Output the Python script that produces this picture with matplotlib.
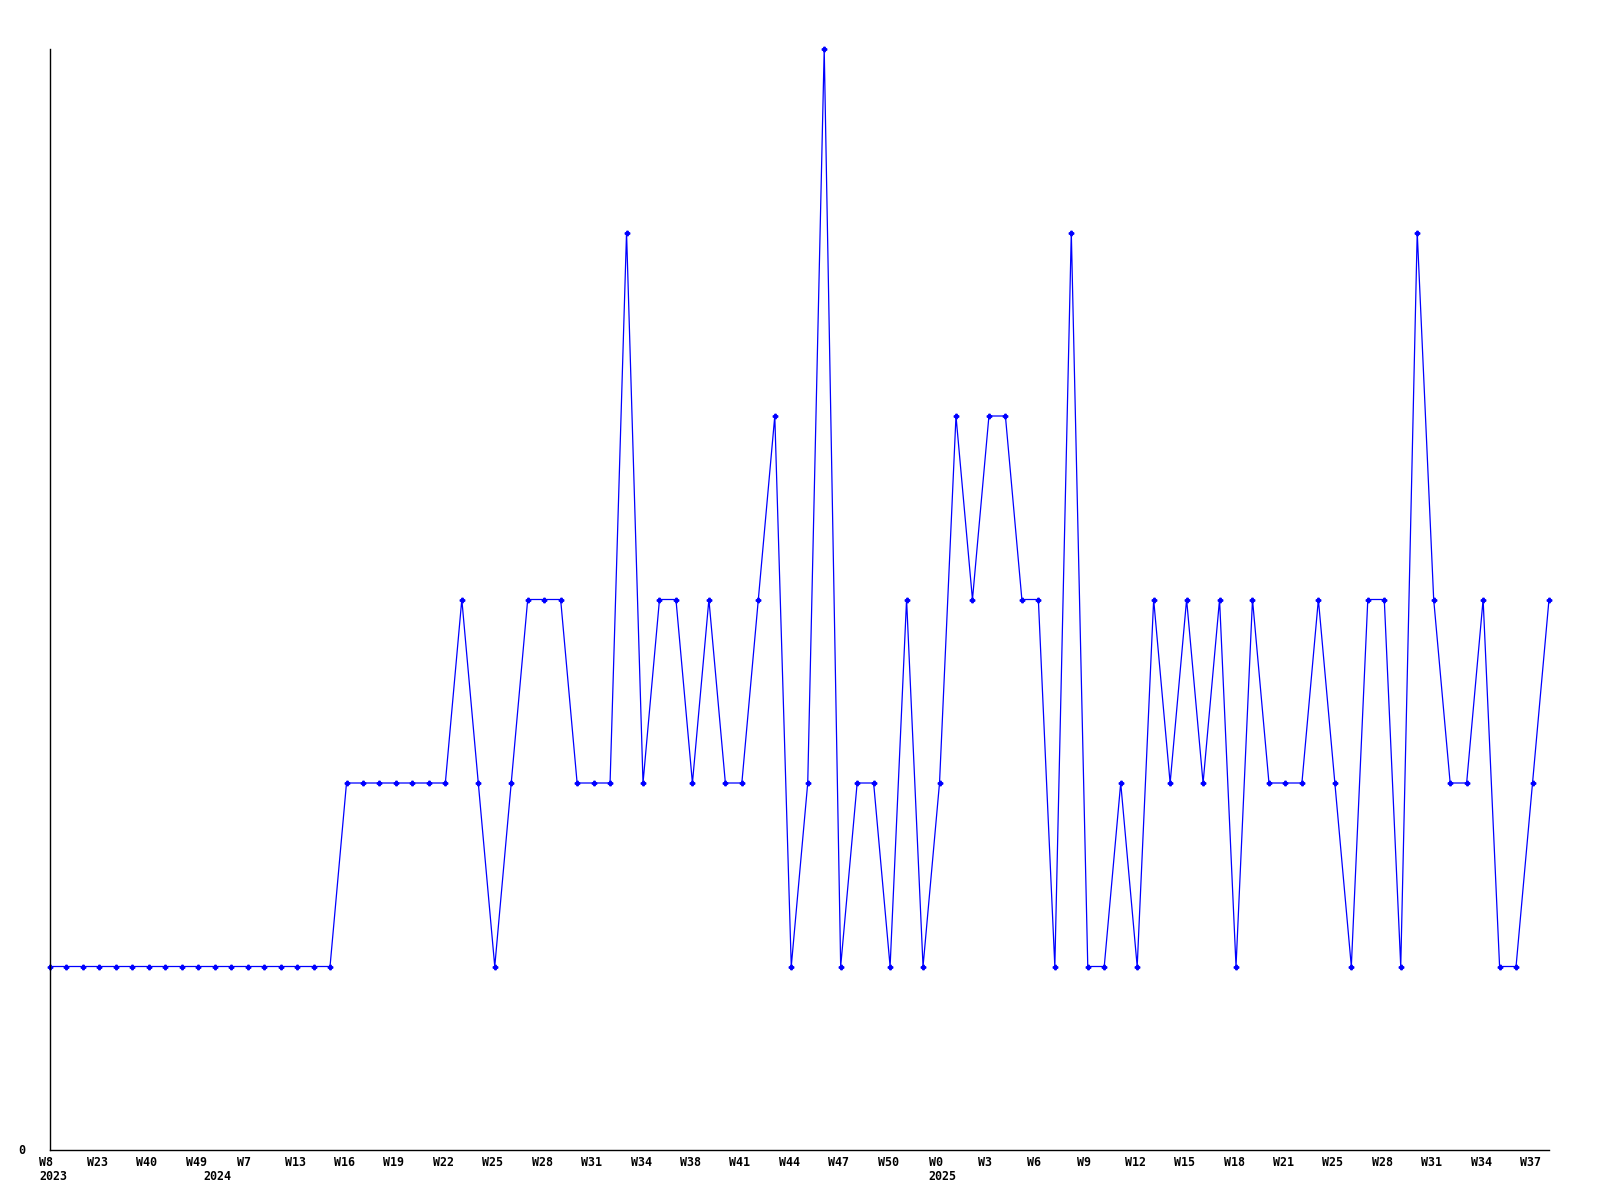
import numpy as np
import matplotlib
matplotlib.use("Agg")
import matplotlib.pyplot as plt

# Weekly counts, one per data point
values = [1, 1, 1, 1, 1, 1, 1, 1, 1, 1, 1, 1, 1, 1, 1, 1, 1, 1,
          2, 2, 2, 2, 2, 2, 2, 3, 2, 1, 2, 3, 3, 3, 2, 2, 2, 5,
          2, 3, 3, 2, 3, 2, 2, 3, 4, 1, 2, 6, 1, 2, 2, 1, 3, 1,
          2, 4, 3, 4, 4, 3, 3, 1, 5, 1, 1, 2, 1, 3, 2, 3, 2, 3,
          1, 3, 2, 2, 2, 3, 2, 1, 3, 3, 1, 5, 3, 2, 2, 3, 1, 1,
          2, 3]

# Labels shown on every 3rd point
week_labels = ["W8", "W23", "W40", "W49", "W7", "W13", "W16", "W19", "W22",
               "W25", "W28", "W31", "W34", "W38", "W41", "W44", "W47", "W50",
               "W0", "W3", "W6", "W9", "W12", "W15", "W18", "W21", "W25",
               "W28", "W31", "W34", "W37"]
label_step = 3

# Year labels at first point of each year
year_labels = ["2023", "2024", "2025"]
year_index = [0, 10, 54]

x = np.arange(len(values))

fig = plt.figure(figsize=(16, 12), dpi=100)
ax = fig.add_axes([50/1600, 50/1200, 1499/1600, 1101/1200])

ax.plot(x, values, color="#0000ff", lw=0.9, marker="P", ms=3.2,
        mec="#0000ff", mfc="#0000ff", clip_on=False)

ax.set_xlim(0, len(values) - 1)
ax.set_ylim(0, 6)
for s in ["top", "right"]:
    ax.spines[s].set_visible(False)
for s in ["left", "bottom"]:
    ax.spines[s].set_linewidth(1.0)
    ax.spines[s].set_color("black")
ax.set_xticks([])
ax.set_yticks([])

font = dict(family="DejaVu Sans Mono", weight="bold", size=8.4)

for k, lab in enumerate(week_labels):
    dx = -4 if len(lab) == 2 else -2
    ax.annotate(lab, xy=(k * label_step, 0), xytext=(dx, -12.5),
                textcoords="offset pixels", ha="center", va="center",
                annotation_clip=False, **font)

for lab, i in zip(year_labels, year_index):
    ax.annotate(lab, xy=(i, 0), xytext=(-11, -27),
                textcoords="offset pixels", ha="left", va="center",
                annotation_clip=False, **font)

ax.annotate("0", xy=(0, 0), xytext=(-25, 0), textcoords="offset pixels",
            ha="right", va="center", annotation_clip=False, **font)

fig.savefig("out.png", dpi=100)
